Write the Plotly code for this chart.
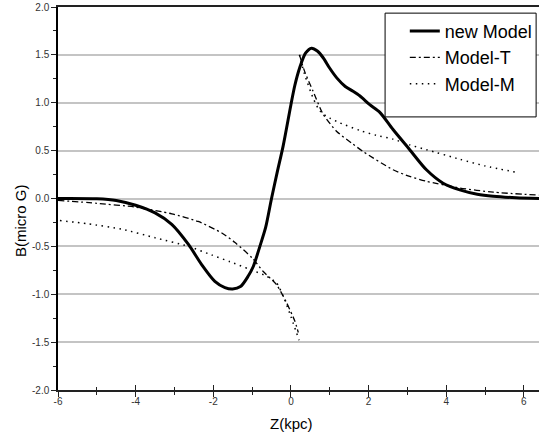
import plotly.graph_objects as go

# ---- data ----
new_x = [-6.0, -5.0, -4.5, -4.0, -3.5, -3.07, -2.64, -2.3, -1.96, -1.7, -1.5, -1.3, -1.1, -0.97,
         -0.8, -0.65, -0.5, -0.35, -0.2, 0.0, 0.1, 0.23, 0.38, 0.53, 0.68, 0.83, 1.0, 1.18, 1.4,
         1.6, 1.78, 2.03, 2.29, 2.63, 3.06, 3.49, 3.92, 4.35, 4.8, 5.21, 5.8, 6.39]
new_y = [0.0, -0.003, -0.02, -0.07, -0.15, -0.27, -0.48, -0.69, -0.865, -0.93, -0.945, -0.92, -0.81, -0.71,
         -0.5, -0.3, 0.0, 0.28, 0.55, 0.98, 1.18, 1.37, 1.52, 1.57, 1.54, 1.47, 1.36, 1.26, 1.17,
         1.12, 1.07, 0.98, 0.9, 0.72, 0.51, 0.30, 0.16, 0.09, 0.045, 0.024, 0.008, 0.0]

t_left_x = [-6.0, -5.0, -4.0, -3.07, -2.39, -1.78, -1.44, -1.0, -0.72, -0.37, -0.11, 0.1, 0.19]
t_left_y = [-0.02, -0.05, -0.09, -0.16, -0.24, -0.36, -0.46, -0.62, -0.76, -0.90, -1.09, -1.28, -1.40]
t_right_x = [0.22, 0.35, 0.57, 0.83, 1.18, 1.56, 1.86, 2.63, 3.06, 3.49, 4.35, 5.21, 6.39]
t_right_y = [1.50, 1.33, 1.12, 0.88, 0.70, 0.58, 0.49, 0.30, 0.23, 0.18, 0.11, 0.066, 0.035]

m_left_x = [-5.95, -5.22, -4.36, -3.5, -2.64, -2.04, -1.57, -1.06, -0.63, -0.37, -0.2, -0.03, 0.21]
m_left_y = [-0.23, -0.265, -0.32, -0.41, -0.50, -0.59, -0.66, -0.74, -0.81, -0.88, -1.02, -1.20, -1.48]
m_right_x = [0.22, 0.35, 0.57, 0.75, 1.0, 1.26, 1.78, 2.2, 2.63, 3.06, 3.49, 4.35, 5.0, 5.85]
m_right_y = [1.50, 1.30, 1.05, 0.91, 0.84, 0.79, 0.71, 0.66, 0.62, 0.56, 0.51, 0.41, 0.34, 0.27]

x_ticks = [-6, -4, -2, 0, 2, 4, 6]
y_ticks = [2.0, 1.5, 1.0, 0.5, 0.0, -0.5, -1.0, -1.5, -2.0]
y_tick_text = [f"{v:.1f}" for v in y_ticks]

FONT = "Liberation Sans, Arial, sans-serif"
DASHDOT = "6px,3px,2px,3px"
DOT = "1.5px,4.5px"

fig = go.Figure()
fig.add_trace(go.Scatter(x=new_x, y=new_y, mode="lines", name="new Model", legendgroup="a",
                         line=dict(color="black", width=3, shape="spline", smoothing=0.8)))
fig.add_trace(go.Scatter(x=t_left_x, y=t_left_y, mode="lines", name="Model-T", legendgroup="b",
                         line=dict(color="black", width=1.3, dash=DASHDOT, shape="spline", smoothing=0.6)))
fig.add_trace(go.Scatter(x=t_right_x, y=t_right_y, mode="lines", name="Model-T", legendgroup="b",
                         showlegend=False,
                         line=dict(color="black", width=1.3, dash=DASHDOT, shape="spline", smoothing=0.6)))
fig.add_trace(go.Scatter(x=m_left_x, y=m_left_y, mode="lines", name="Model-M", legendgroup="c",
                         line=dict(color="black", width=1.5, dash=DOT, shape="spline", smoothing=0.6)))
fig.add_trace(go.Scatter(x=m_right_x, y=m_right_y, mode="lines", name="Model-M", legendgroup="c",
                         showlegend=False,
                         line=dict(color="black", width=1.5, dash=DOT, shape="spline", smoothing=0.6)))
# helper axis for the inner half of crossing x ticks
fig.add_trace(go.Scatter(x=[], y=[], xaxis="x2", showlegend=False, hoverinfo="skip"))

xr = [-6, 6.39]
fig.update_layout(
    width=539, height=437,
    margin=dict(l=58, r=0, t=7, b=47),
    paper_bgcolor="white", plot_bgcolor="white",
    font=dict(family=FONT, color="#222"),
    showlegend=True,
    legend=dict(x=0.721, y=0.985, xanchor="left", yanchor="top",
                bgcolor="rgba(0,0,0,0)", borderwidth=0,
                font=dict(family=FONT, size=18, color="black"),
                tracegroupgap=0),
    xaxis=dict(range=xr, tickmode="array", tickvals=x_ticks, ticktext=[str(v) for v in x_ticks],
               showgrid=False, zeroline=False, showline=True, linecolor="#222", linewidth=1.5,
               mirror=True, ticks="outside", ticklen=5, tickwidth=1.2, tickcolor="#222",
               tickfont=dict(size=10, color="#333"), ticklabelstandoff=-4,
               minor=dict(dtick=1, ticks="outside", ticklen=3, tickwidth=1, tickcolor="#222", showgrid=False)),
    xaxis2=dict(range=xr, overlaying="x", anchor="y", side="bottom", showgrid=False, zeroline=False,
                showline=False, showticklabels=False, tickmode="array", tickvals=x_ticks,
                ticks="inside", ticklen=5, tickwidth=1.2, tickcolor="#222",
                minor=dict(dtick=1, ticks="inside", ticklen=3, tickwidth=1, tickcolor="#222", showgrid=False)),
    yaxis=dict(range=[-2, 2], tickmode="array", tickvals=y_ticks, ticktext=y_tick_text,
               showgrid=True, gridcolor="#c4c4c4", gridwidth=1.5,
               zeroline=True, zerolinecolor="#c4c4c4", zerolinewidth=1.5,
               showline=True, linecolor="black", linewidth=1.5,
               ticks="outside", ticklen=5, tickwidth=1.2, tickcolor="#222",
               tickfont=dict(size=10, color="#333"),
               minor=dict(dtick=0.25, ticks="outside", ticklen=3, tickwidth=1, tickcolor="#222", showgrid=False)),
    shapes=[dict(type="rect", xref="paper", yref="paper", x0=0.680, x1=0.994, y0=0.713, y1=0.984,
                 line=dict(color="black", width=1), fillcolor="white", layer="above")],
    annotations=[
        dict(text="Z(kpc)", xref="paper", yref="paper", x=(291 - 58) / 481, y=-(423 - 390) / 383,
             xanchor="center", yanchor="middle", showarrow=False,
             font=dict(family=FONT, size=15, color="black")),
        dict(text="B(micro G)", xref="paper", yref="paper", x=-(58 - 20) / 481, y=(390 - 221) / 383,
             xanchor="center", yanchor="middle", showarrow=False, textangle=-90,
             font=dict(family=FONT, size=15, color="black")),
    ],
)

fig.write_html("out.html", config={"displayModeBar": False},
               post_script="document.body.style.margin='0';document.body.style.overflow='hidden';")
